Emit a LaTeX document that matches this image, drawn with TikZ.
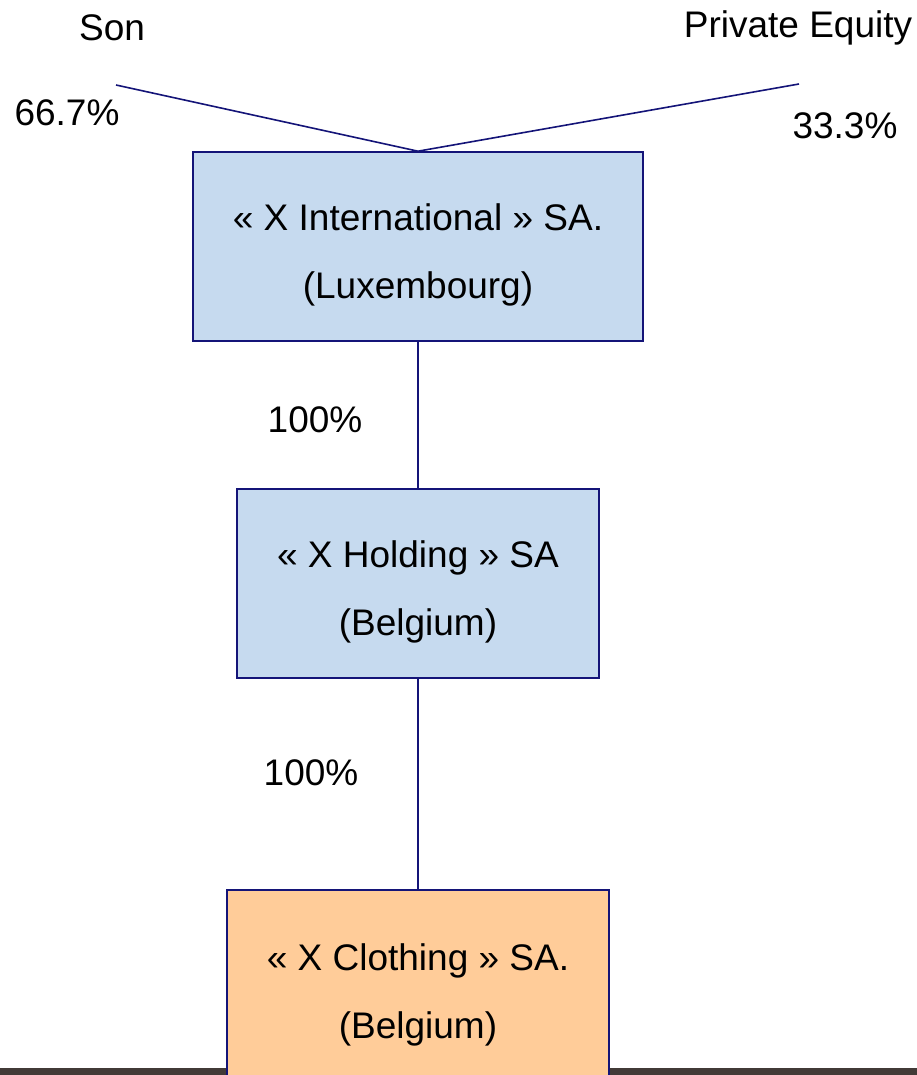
\documentclass[tikz,border=0pt]{standalone}
\usepackage{fontspec}
\setmainfont{Liberation Sans}
\definecolor{edge}{RGB}{20,20,120}
\definecolor{boxblue}{RGB}{198,218,239}
\definecolor{boxorange}{RGB}{255,204,153}
\definecolor{band}{RGB}{66,58,55}
% tall strut that lowers the two text lines inside a company box
\newcommand{\toplift}{\rule{0pt}{43pt}}
\begin{document}
\begin{tikzpicture}[x=1pt,y=-1pt,
  lbl/.style={inner sep=0pt,font=\fontsize{37}{44}\selectfont},
  entity/.style={draw=edge,line width=1.6pt,inner sep=0pt,align=center,
    font=\fontsize{37}{68}\selectfont},
  link/.style={draw=edge,line width=1.6pt}]
\useasboundingbox (0,0) rectangle (917,1075);
\clip (0,0) rectangle (917,1075);
% shareholders
\node[lbl] (son) at (112,28) {Son};
\node[lbl] (pe) at (798,28) {Private Equity};
\coordinate (sonend) at (116,85);
\coordinate (peend) at (799,84);
\node[lbl] (p1) at (67,113) {66.7\%};
\node[lbl] (p2) at (845,126) {33.3\%};
% footer band
\fill[band] (0,1068) rectangle (917,1075);
% companies
\node[entity,fill=boxblue,minimum width=450pt,minimum height=189pt] (intl) at (418,246.5)
  {\toplift« X International » SA.\\(Luxembourg)};
\node[entity,fill=boxblue,minimum width=362pt,minimum height=189pt] (hold) at (418,583.5)
  {\toplift« X Holding » SA\\(Belgium)};
\node[entity,fill=boxorange,minimum width=382pt,minimum height=193pt] (cloth) at (418,986.5)
  {\toplift« X Clothing » SA.\\(Belgium)};
% ownership links
\draw[link] (sonend) -- (intl.north);
\draw[link] (peend) -- (intl.north);
\draw[link] (intl.south) -- (hold.north);
\draw[link] (hold.south) -- (cloth.north);
\node[lbl] (h1) at (315,420) {100\%};
\node[lbl] (h2) at (311,773) {100\%};
\end{tikzpicture}
\end{document}
